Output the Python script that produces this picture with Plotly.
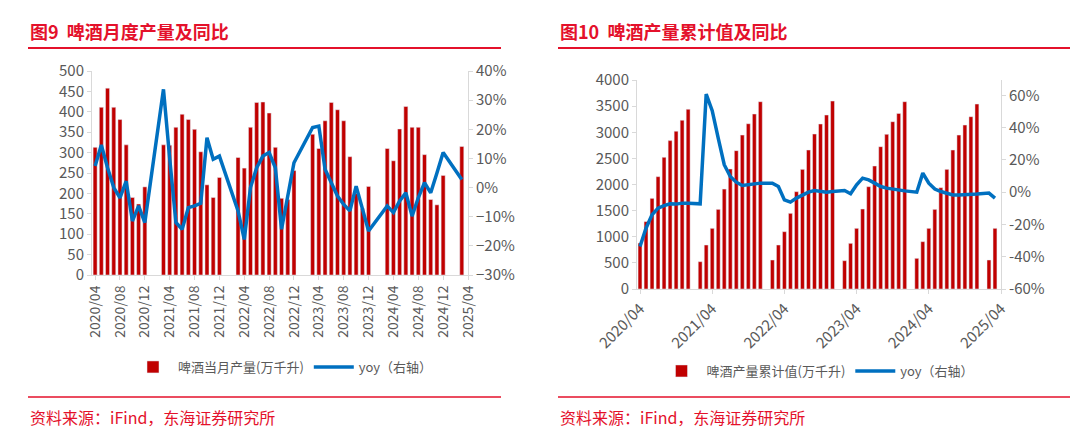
import plotly.graph_objects as go

# month categories 2020/04 .. 2025/04
months = []
for y in range(2020, 2026):
    for m in range(1, 13):
        if (y == 2020 and m < 4) or (y == 2025 and m > 4):
            continue
        months.append(f"{y}/{m:02d}")

N = None
# Left: monthly production (万千升)
prod_2020 = [313, 411, 458, 411, 381, 319, 190, 174, 216]
prod_2021 = [N, N, 319, 318, 362, 394, 381, 357, 302, 221, 190, 239]
prod_2022 = [N, N, 288, 262, 362, 423, 424, 397, 313, 188, 185, 256]
prod_2023 = [N, N, 345, 310, 378, 423, 405, 378, 290, 200, 163, 217]
prod_2024 = [N, N, 310, 280, 358, 413, 362, 362, 295, 185, 172, 244]
prod_2025 = [N, N, 315, N]
prod = prod_2020 + prod_2021 + prod_2022 + prod_2023 + prod_2024 + prod_2025

yoy_2020 = [7.4, 14.6, 6.8, 0, -3.5, 2.2, -11.5, -6.3, -12]
yoy_2021 = [N, N, 33.7, 10, -12, -14.3, -6.9, -6.3, -5.4, 17.1, 9.7, 10.8]
yoy_2022 = [N, N, -8, -17.8, 0, 6.8, 10.8, 12, 6.8, -14.3, -2.3, 8.5]
yoy_2023 = [N, N, 20.6, 21.1, 6.3, 1.7, -2.9, -5.8, -8, 0.5, -7.5, -14.9]
yoy_2024 = [N, N, -6.3, -8.6, -4.6, -1.8, -9.8, -3.5, 1.7, -1.8, 5, 12]
yoy_2025 = [N, N, 2.8, N]
yoy = yoy_2020 + yoy_2021 + yoy_2022 + yoy_2023 + yoy_2024 + yoy_2025

# Right: cumulative production (万千升)
cum_2020 = [880, 1290, 1735, 2150, 2520, 2840, 3020, 3230, 3440]
cum_2021 = [N, 523, 842, 1161, 1524, 1913, 2297, 2648, 2946, 3163, 3349, 3585]
cum_2022 = [N, 555, 842, 1097, 1448, 1863, 2290, 2660, 2966, 3158, 3330, 3597]
cum_2023 = [N, 542, 874, 1161, 1531, 1958, 2354, 2724, 2960, 3202, 3361, 3585]
cum_2024 = [N, 587, 906, 1161, 1524, 1939, 2290, 2660, 2946, 3138, 3298, 3540]
cum_2025 = [N, 555, 1161, N]
cum = cum_2020 + cum_2021 + cum_2022 + cum_2023 + cum_2024 + cum_2025

cyoy_2020 = [-33.7, -22.3, -14, -9.9, -8.3, -7.2, -7.4, -6.8, -6.8]
cyoy_2021 = [N, -7.2, 60.8, 50.5, 33.5, 17, 9.7, 6.2, 4.1, 4.6, 5.2, 5.6]
cyoy_2022 = [N, 5.6, 3.5, -4.8, -6.2, -3.7, -1.7, 0, 1, 0.4, 0, 0.4]
cyoy_2023 = [N, 1.0, -1.0, 4.6, 8.7, 7.6, 5.6, 3.5, 2.5, 1.9, 1.0, 0.8]
cyoy_2024 = [N, 0, 11.8, 5.6, 1.9, 0.4, -0.6, -1.7, -1.7, -1.7, -1.7, -1.2]
cyoy_2025 = [N, -0.6, -3.7, N]
cyoy = cyoy_2020 + cyoy_2021 + cyoy_2022 + cyoy_2023 + cyoy_2024 + cyoy_2025

ticks_left = months[::4]
ticks_right = months[::12]
pct_right = [-60, -40, -20, 0, 20, 40, 60]

RED = "#C00000"
BLUE = "#0070C0"
TITLE_RED = "#E4112B"
GRAY = "#595959"
FONT = "Noto Sans CJK SC, Arial"

fig = go.Figure()
fig.add_bar(x=months, y=prod, marker_color=RED, name="啤酒当月产量(万千升)",
            xaxis="x", yaxis="y", legend="legend")
fig.add_scatter(x=months, y=yoy, mode="lines", line=dict(color=BLUE, width=3.5),
                connectgaps=True, name="yoy（右轴）", xaxis="x", yaxis="y2", legend="legend")
fig.add_bar(x=months, y=cum, marker_color=RED, name="啤酒产量累计值(万千升)",
            xaxis="x2", yaxis="y3", legend="legend2")
fig.add_scatter(x=months, y=cyoy, mode="lines", line=dict(color=BLUE, width=3.5),
                connectgaps=True, name="yoy（右轴）", xaxis="x2", yaxis="y4", legend="legend2")

W, H = 1080, 429
def px(x): return x / W
def py(y): return 1 - y / H

tickf = dict(family=FONT, size=15, color=GRAY)
axline = dict(showline=True, linecolor="#D9D9D9", linewidth=1, ticks="outside",
              tickcolor="#D9D9D9", ticklen=4, showgrid=False, zeroline=False,
              automargin=False)

fig.update_layout(
    width=W, height=H, margin=dict(l=0, r=0, t=0, b=0),
    paper_bgcolor="white", plot_bgcolor="white",
    bargap=0.35, font=dict(family=FONT, color=GRAY),
    xaxis=dict(domain=[px(84), px(460)], type="category", categoryorder="array",
               categoryarray=months, range=[-0.5, 60], tickmode="array",
               tickvals=ticks_left, ticktext=ticks_left, tickangle=-90,
               tickfont=dict(family=FONT, size=14, color=GRAY), anchor="y", **axline),
    yaxis=dict(domain=[py(267), py(63)], range=[0, 500], dtick=50,
               tickfont=tickf, anchor="x", **axline),
    yaxis2=dict(range=[-30, 40], dtick=10, ticksuffix="%", overlaying="y",
                side="right", anchor="x", tickfont=tickf, **axline),
    xaxis2=dict(domain=[px(629), px(993)], type="category", categoryorder="array",
                categoryarray=months, range=[-0.5, 60], tickmode="array",
                tickvals=ticks_right, ticktext=ticks_right, tickangle=-45,
                tickfont=dict(family=FONT, size=15, color=GRAY), anchor="y3", **axline),
    yaxis3=dict(domain=[py(281), py(72)], range=[0, 4000], dtick=500,
                tickfont=tickf, anchor="x2", **axline),
    yaxis4=dict(range=[-60, 69.5], tickmode="array", tickvals=pct_right,
                ticktext=[f"{v}%" for v in pct_right],
                overlaying="y3", side="right", anchor="x2",
                tickfont=tickf, **axline),
    legend=dict(orientation="h", x=px(275), y=py(359), xanchor="center", yanchor="middle",
                font=dict(family=FONT, size=13, color=GRAY), itemwidth=40,
                bgcolor="rgba(0,0,0,0)"),
    legend2=dict(orientation="h", x=px(810), y=py(363), xanchor="center", yanchor="middle",
                 font=dict(family=FONT, size=13, color=GRAY), itemwidth=40,
                 bgcolor="rgba(0,0,0,0)"),
)

shapes = []
for x0, x1 in [(20, 493), (550, 1062)]:
    shapes.append(dict(type="line", xref="paper", yref="paper", x0=px(x0), x1=px(x1),
                       y0=py(40), y1=py(40), line=dict(color=TITLE_RED, width=2)))
    shapes.append(dict(type="line", xref="paper", yref="paper", x0=px(x0), x1=px(x1),
                       y0=py(389), y1=py(389), line=dict(color=TITLE_RED, width=1.5)))
fig.update_layout(shapes=shapes)

ann = []
for x0, t in [(20, "图9  啤酒月度产量及同比"), (550, "图10  啤酒产量累计值及同比")]:
    ann.append(dict(text=f"<b>{t}</b>", xref="paper", yref="paper", x=px(x0), y=py(23),
                    xanchor="left", yanchor="middle", showarrow=False,
                    font=dict(family=FONT, size=18, color=TITLE_RED)))
    ann.append(dict(text="资料来源：iFind，东海证券研究所", xref="paper", yref="paper",
                    x=px(x0), y=py(409), xanchor="left", yanchor="middle", showarrow=False,
                    font=dict(family=FONT, size=16, color=TITLE_RED)))
fig.update_layout(annotations=ann)

fig.write_html("out.html")
